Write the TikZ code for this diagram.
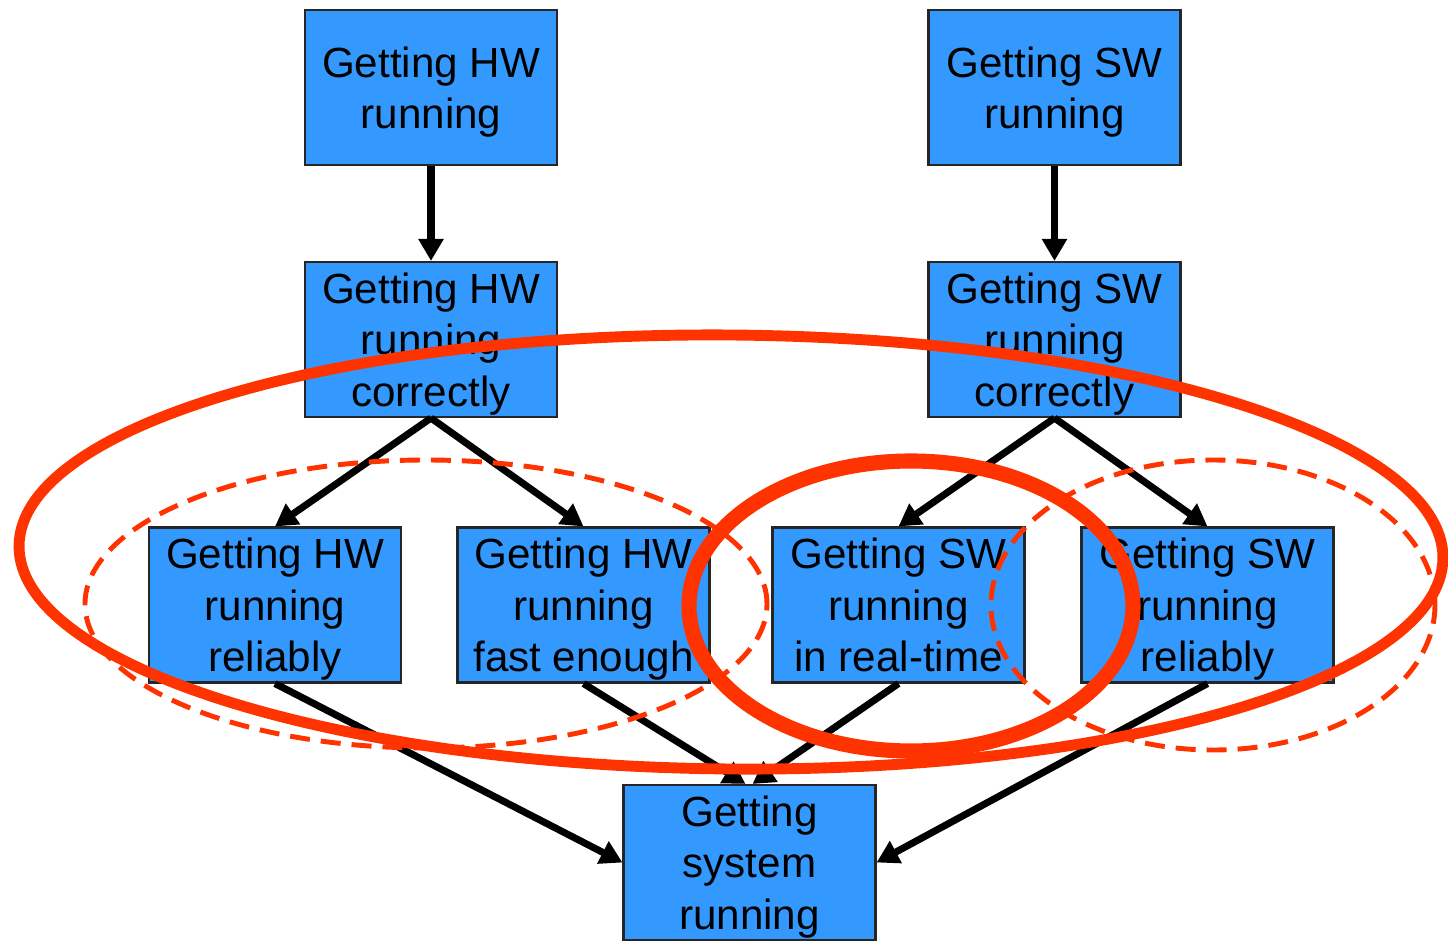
\documentclass[tikz,border=0pt]{standalone}
\usepackage{fontspec}
\setmainfont{Liberation Sans}
\usepackage{tikz}
\usetikzlibrary{arrows.meta}
\definecolor{boxblue}{HTML}{3399FF}
\definecolor{ringred}{HTML}{FF3300}
\tikzset{block/.style={draw=black!85, line width=0.6pt, fill=boxblue, minimum width=2.52cm, minimum height=1.55cm, inner sep=0pt, align=center, text depth=0pt, font=\fontsize{12}{14.6}\selectfont}}
\tikzset{link/.style={line width=2pt, -{Triangle[length=0.22cm,width=0.24cm]}}}
\tikzset{ring/.style={draw=ringred, line width=3.1pt}}
\tikzset{dashring/.style={draw=ringred, line width=1.4pt, dash pattern=on 0.2cm off 0.11cm}}

\begin{document}
\begin{tikzpicture}
    \useasboundingbox (0,0) rectangle (14.48,9.40);

    \node[block] at (4.31,8.525) (hw1){Getting HW\\running};
    \node[block] at ([xshift = 6.235cm]hw1) (sw1){Getting SW\\running};
    \node[block] at ([yshift = -2.52cm]hw1) (hw2){Getting HW\\running\\correctly};
    \node[block] at ([yshift = -2.52cm]sw1) (sw2){Getting SW\\running\\correctly};

    \node[block] at (2.75,3.35) (hw3){Getting HW\\running\\reliably};
    \node[block] at ([xshift = 3.085cm]hw3) (hw4){Getting HW\\running\\fast enough};
    \node[block] at ([xshift = 3.15cm]hw4) (sw3){Getting SW\\running\\in real-time};
    \node[block] at ([xshift = 3.09cm]sw3) (sw4){Getting SW\\running\\reliably};
    \node[block] at (7.495,0.775) (sys){Getting\\system\\running};

    \draw[link] (hw1.south) -- (hw2.north);
    \draw[link] (sw1.south) -- (sw2.north);
    \draw[link] (hw2.south) -- (hw3.north);
    \draw[link] (hw2.south) -- (hw4.north);
    \draw[link] (sw2.south) -- (sw3.north);
    \draw[link] (sw2.south) -- (sw4.north);
    \draw[link] (hw3.south) -- (sys.west);
    \draw[link] (hw4.south) -- ([xshift = -0.04cm]sys.north);
    \draw[link] (sw3.south) -- ([xshift = 0.03cm]sys.north);
    \draw[link] (sw4.south) -- (sys.east);

    \draw[ring, rotate around={-0.5:(7.31,3.88)}] (7.31,3.88) ellipse [x radius=7.12cm, y radius=2.17cm];
    \draw[dashring] (4.26,3.36) ellipse [x radius=3.41cm, y radius=1.44cm];
    \draw[dashring] (12.13,3.35) ellipse [x radius=2.22cm, y radius=1.45cm];
    \draw[ring, line width=4.3pt] (9.11,3.34) ellipse [x radius=2.22cm, y radius=1.45cm];
  \end{tikzpicture}
\end{document}
